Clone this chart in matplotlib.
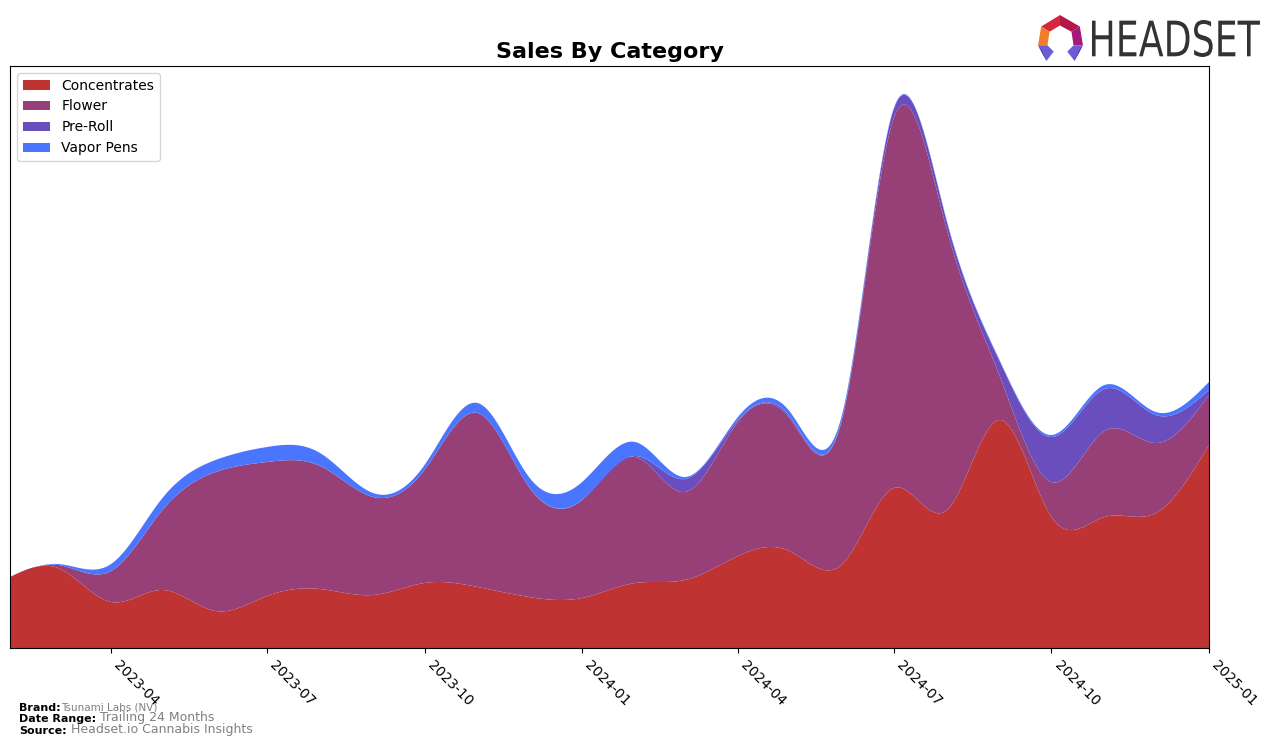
import numpy as np
import matplotlib
matplotlib.use("Agg")
import matplotlib.pyplot as plt
import matplotlib.dates as mdates
from matplotlib.textpath import TextPath
from matplotlib.patches import PathPatch, Polygon
from matplotlib.font_manager import FontProperties

# ---------------- data (monthly, arbitrary sales units) ----------------
months = ["2023-02", "2023-03", "2023-04", "2023-05", "2023-06", "2023-07",
          "2023-08", "2023-09", "2023-10", "2023-11", "2023-12", "2024-01",
          "2024-02", "2024-03", "2024-04", "2024-05", "2024-06", "2024-07",
          "2024-08", "2024-09", "2024-10", "2024-11", "2024-12", "2025-01"]
concentrates = [71, 80, 46, 58, 37, 52, 59, 53, 65, 61, 51, 50,
                65, 68, 92, 97, 84, 160, 138, 228, 131, 131, 135, 203]
flower = [0, 3, 31, 80, 139, 134, 123, 98, 113, 174, 110, 98,
          126, 88, 134, 133, 146, 370, 280, 43, 35, 86, 70, 50]
pre_roll = [0, 0, 0, 0, 0, 0, 0, 0, 0, 0, 0, 0,
            1, 13, 2, 2, 1, 9, 8, 15, 45, 42, 28, 5]
vapor_pens = [0, 1, 7, 12, 12, 15, 13, 4, 5, 10, 10, 18,
              14, 2, 3, 5, 4, 1, 1, 1, 2, 4, 3, 8]
series_names = ["Concentrates", "Flower", "Pre-Roll", "Vapor Pens"]
tick_labels = ["2023-04", "2023-07", "2023-10", "2024-01",
               "2024-04", "2024-07", "2024-10", "2025-01"]

colors = ["#C03333", "#964077", "#6A4EBE", "#4A76FF"]


def natural_cubic(x, y, xs):
    x = np.asarray(x, float)
    y = np.asarray(y, float)
    n = len(x)
    h = np.diff(x)
    A = np.zeros((n, n))
    r = np.zeros(n)
    A[0, 0] = 1
    A[-1, -1] = 1
    for i in range(1, n - 1):
        A[i, i - 1] = h[i - 1]
        A[i, i] = 2 * (h[i - 1] + h[i])
        A[i, i + 1] = h[i]
        r[i] = 3 * ((y[i + 1] - y[i]) / h[i] - (y[i] - y[i - 1]) / h[i - 1])
    c = np.linalg.solve(A, r)
    b = (y[1:] - y[:-1]) / h - h * (2 * c[:-1] + c[1:]) / 3
    d = (c[1:] - c[:-1]) / (3 * h)
    idx = np.clip(np.searchsorted(x, xs) - 1, 0, n - 2)
    dx = xs - x[idx]
    return y[idx] + b[idx] * dx + c[idx] * dx ** 2 + d[idx] * dx ** 3


xd = mdates.date2num(np.array([np.datetime64(m + "-01") for m in months]))
xs = np.linspace(xd[0], xd[-1], 800)
smooth = [natural_cubic(xd, s, xs) for s in (concentrates, flower, pre_roll, vapor_pens)]

fig = plt.figure(figsize=(12.76, 7.46), dpi=100)
ax = fig.add_axes([10 / 1276, 1 - 648 / 746, 1199 / 1276, 582 / 746])
ax.stackplot(xs, *smooth, labels=series_names, colors=colors, linewidth=0)
ax.set_xlim(xd[0], xd[-1])
ax.set_ylim(0, 582)
ax.set_yticks([])
ticks = mdates.date2num(np.array([np.datetime64(t + "-01") for t in tick_labels]))
ax.set_xticks(ticks)
ax.set_xticklabels(tick_labels, rotation=-45, ha="left", fontsize=10)
ax.set_title("Sales By Category", fontsize=16, fontweight="bold")
leg = ax.legend(loc="upper left", fontsize=10, frameon=True)

# footer
t1 = fig.text(19 / 1276, 1 - 711 / 746, "Brand:", fontsize=8, fontweight="bold", va="baseline")
ax.annotate("Tsunami Labs (NV)", xy=(1, 0), xycoords=t1, xytext=(0, 0), textcoords="offset points",
            fontsize=7.5, color="gray", va="bottom")
t2 = fig.text(19 / 1276, 1 - 722 / 746, "Date Range:", fontsize=8, fontweight="bold", va="baseline")
ax.annotate(" Trailing 24 Months", xy=(1, 0), xycoords=t2, fontsize=9, color="gray", va="bottom")
t3 = fig.text(19 / 1276, 1 - 734 / 746, "Source:", fontsize=8, fontweight="bold", va="baseline")
ax.annotate(" Headset.io Cannabis Insights", xy=(1, 0), xycoords=t3, fontsize=9, color="gray", va="bottom")

# logo text
tp = TextPath((0, 0), "HEADSET", size=10, prop=FontProperties(family="DejaVu Sans"))
ext = tp.get_extents()
lax = fig.add_axes([1092 / 1276, 1 - 57 / 746, 168 / 1276, 37 / 746])
lax.add_patch(PathPatch(tp, facecolor="#333333", edgecolor="none"))
lax.set_xlim(ext.x0, ext.x1)
lax.set_ylim(ext.y0, ext.y1)
lax.axis("off")

# logo icon
iax = fig.add_axes([1037 / 1276, 1 - 61 / 746, 47 / 1276, 47 / 746])
iax.set_xlim(0, 45)
iax.set_ylim(0, 45)
iax.axis("off")
polys = [
    ([(4, 33), (22, 44), (22, 34), (12, 28)], "#d7263d"),
    ([(22, 44), (41, 33), (33, 28), (22, 34)], "#b3184a"),
    ([(41, 33), (44, 15), (35, 15), (33, 28)], "#a3197c"),
    ([(4, 33), (1, 15), (10, 15), (12, 28)], "#f07d2a"),
    ([(1, 15), (10, 15), (16, 9), (9, 0)], "#6b5bd6"),
    ([(1, 15), (9, 0), (5, 9)], "#2b2a7a"),
    ([(35, 15), (44, 15), (36, 0), (29, 9)], "#6b5bd6"),
    ([(44, 15), (40, 9), (36, 0)], "#2b2a7a"),
]
for pts, col in polys:
    iax.add_patch(Polygon(pts, closed=True, facecolor=col, edgecolor="none"))

fig.savefig("out.png", dpi=100)
